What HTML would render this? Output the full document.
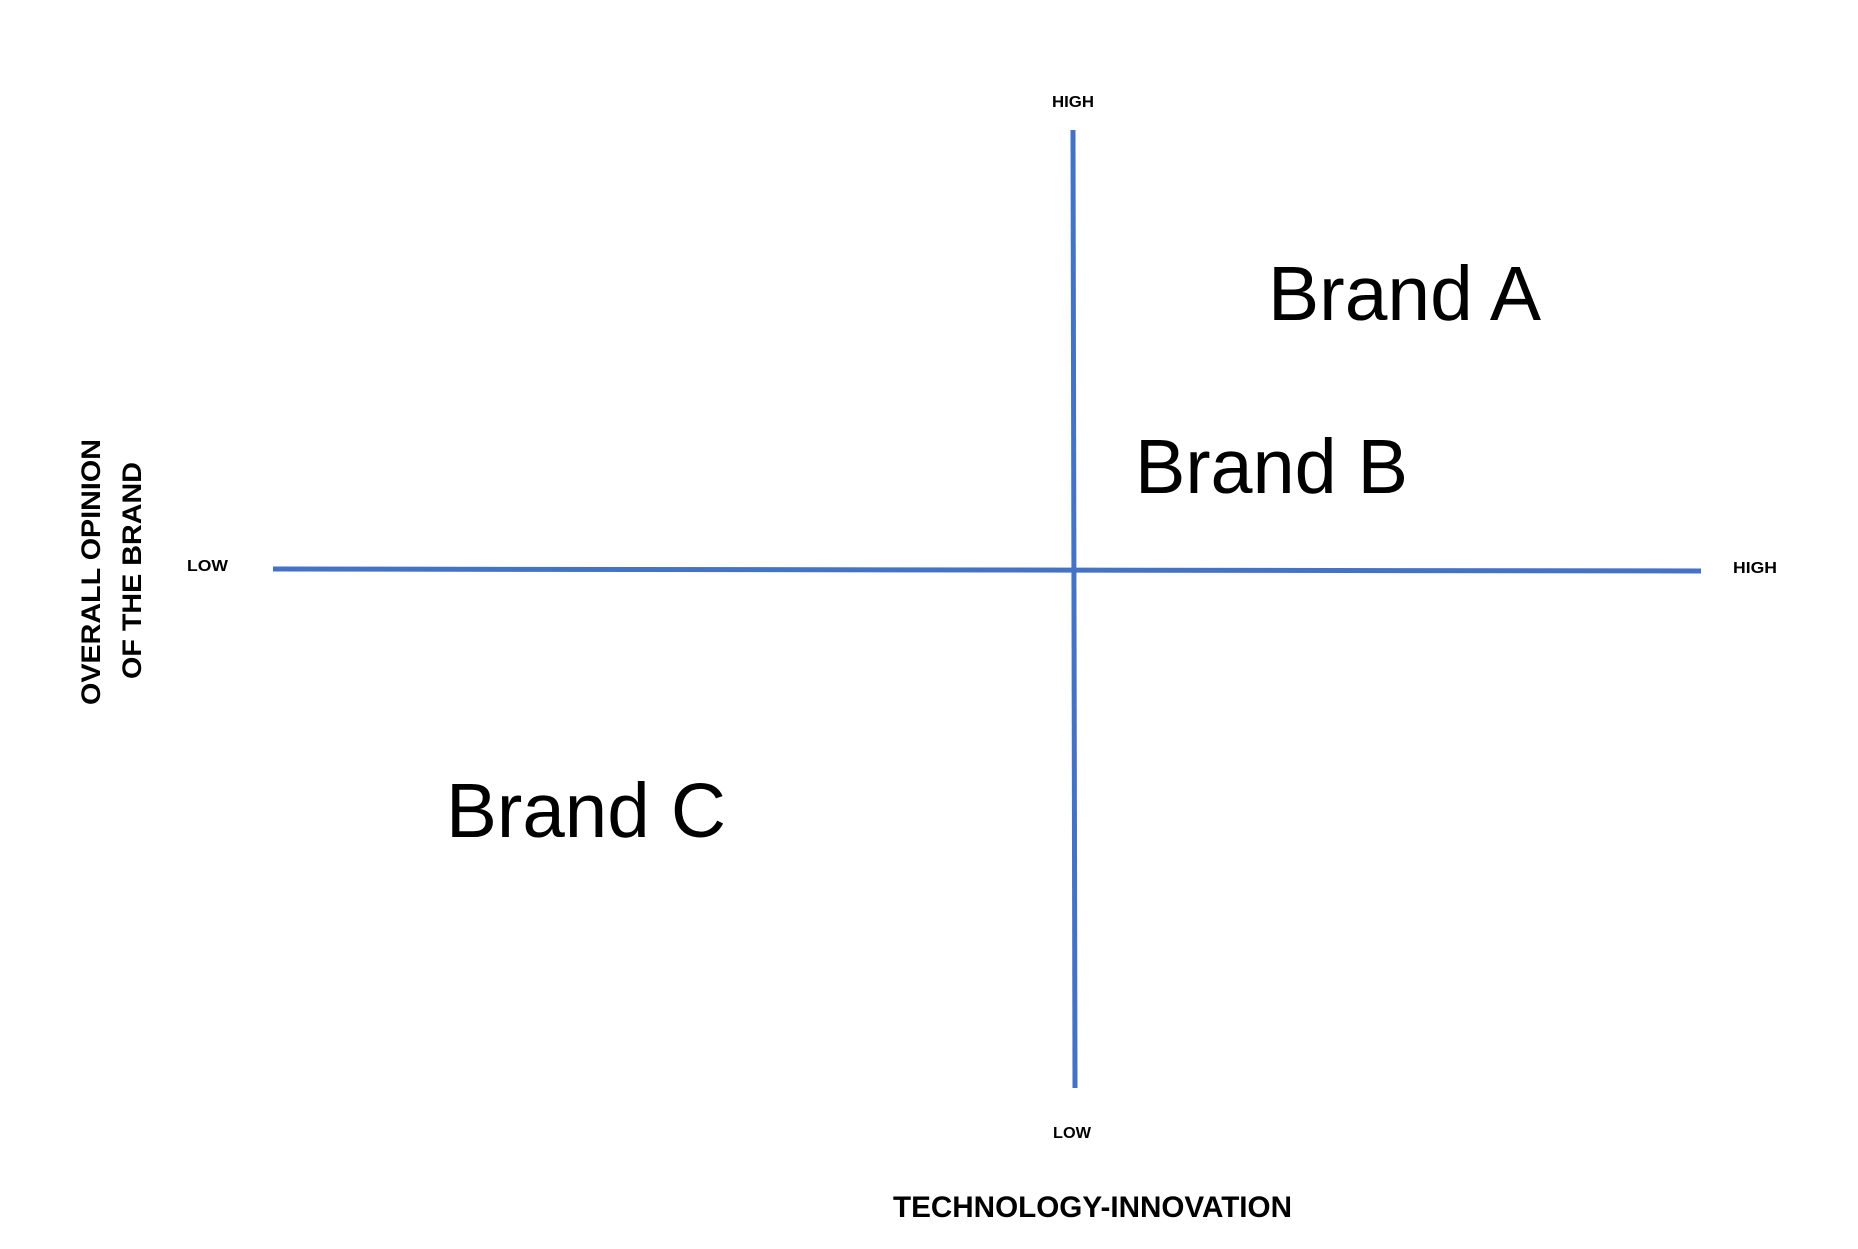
<!DOCTYPE html>
<html><head><style>body{margin:0;background:#fff}svg{display:block}</style></head>
<body>
<svg width="1858" height="1249" xmlns="http://www.w3.org/2000/svg" font-family="Liberation Sans, sans-serif">
<line x1="1073" y1="130" x2="1075" y2="1088" stroke="#4472C4" stroke-width="5"/>
<line x1="273" y1="569" x2="1701" y2="571" stroke="#4472C4" stroke-width="5"/>
<g font-weight="bold" font-size="16" fill="#000">
<text x="1052" y="107" textLength="42" lengthAdjust="spacingAndGlyphs">HIGH</text>
<text x="1053" y="1138" textLength="38" lengthAdjust="spacingAndGlyphs">LOW</text>
<text x="187" y="571" textLength="41" lengthAdjust="spacingAndGlyphs">LOW</text>
<text x="1733" y="573" textLength="44" lengthAdjust="spacingAndGlyphs">HIGH</text>
</g>
<g font-size="77" fill="#000">
<text x="1268" y="320" textLength="273" lengthAdjust="spacingAndGlyphs">Brand A</text>
<text x="1135" y="493" textLength="273" lengthAdjust="spacingAndGlyphs">Brand B</text>
<text x="446" y="837" textLength="280" lengthAdjust="spacingAndGlyphs">Brand C</text>
</g>
<text x="893" y="1217" font-size="30" font-weight="bold" textLength="399" lengthAdjust="spacingAndGlyphs">TECHNOLOGY-INNOVATION</text>
<g font-size="27" font-weight="bold">
<text transform="translate(100,705) rotate(-90)" textLength="266" lengthAdjust="spacingAndGlyphs">OVERALL OPINION</text>
<text transform="translate(141,679) rotate(-90)" textLength="217" lengthAdjust="spacingAndGlyphs">OF THE BRAND</text>
</g>
</svg>
</body></html>
